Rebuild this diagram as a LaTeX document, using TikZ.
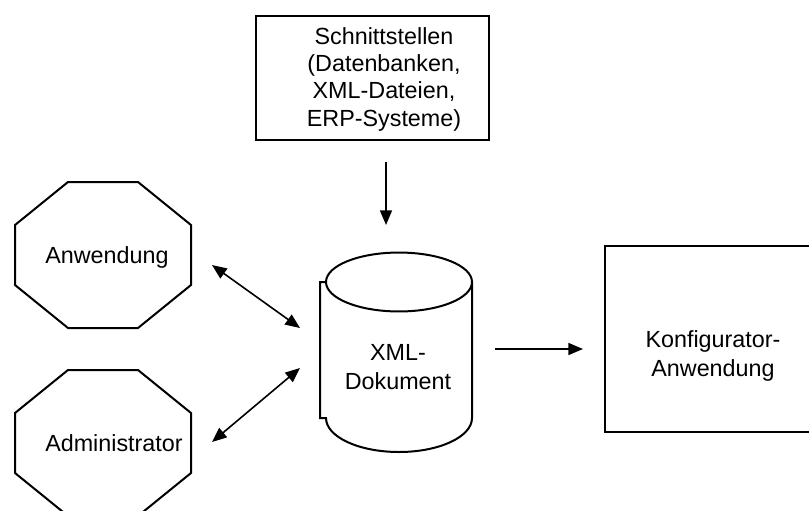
\documentclass[tikz,border=0pt]{standalone}
\usepackage{fontspec}
\setmainfont{Liberation Sans}
\usetikzlibrary{arrows.meta}
\begin{document}
\begin{tikzpicture}[x=0.75pt,y=-0.75pt,
  shp/.style={draw=black, line width=1.5pt},
  lbl/.style={font=\fontsize{17.5}{22}\selectfont, align=center, inner sep=0pt},
  conn/.style={line width=1.2pt, -{Triangle[length=11pt,width=9pt]}},
  biconn/.style={line width=1.2pt, {Triangle[length=11pt,width=9pt]}-{Triangle[length=11pt,width=9pt]}},
  octa/.pic={\draw[shp] (-35,-73) -- (35,-73) -- (88,-30) -- (88,30) -- (35,73) -- (-35,73) -- (-88,30) -- (-88,-30) -- cycle;}]
\useasboundingbox (0,0) rectangle (809,510);

% Schnittstellen box
\node[shp, anchor=north west, minimum width=174.75pt, minimum height=93pt, inner sep=0pt] (src) at (255,15) {};
\node[lbl, font=\fontsize{17.5}{20.5}\selectfont] (srct) at (384,79) {Schnittstellen\\(Datenbanken,\\XML-Dateien,\\ERP-Systeme)};

% Octagons
\pic at (103,255) {octa};
\pic at (103,443) {octa};
\node[lbl, anchor=base west] (app) at (45,263) {Anwendung};
\node[lbl, anchor=base west] (adm) at (45,451) {Administrator};

% Cylinder
\draw[shp] (399,282) ellipse [x radius=54.75pt, y radius=22.1pt];
\draw[shp] (472,282) -- (472,418) arc[start angle=0, end angle=-180, x radius=54.75pt, y radius=25.5pt]
  -- (320,418) -- (320,282) -- (326,282);
\node[inner sep=0pt, minimum width=114pt, minimum height=150pt] (doc) at (399,352) {};
\node[lbl] (doct) at (398,367) {XML-\\Dokument};

% Konfigurator box
\node[shp, anchor=north west, minimum width=156pt, minimum height=139.5pt, inner sep=0pt] (konf) at (604,245) {};
\node[lbl] (konft) at (713,356) {Konfigurator-\\Anwendung};

% connector end points
\coordinate (s1) at (386,162); \coordinate (e1) at (386,225);
\coordinate (s2) at (212,265); \coordinate (e2) at (300,328);
\coordinate (s3) at (212,442); \coordinate (e3) at (300,368);
\coordinate (s4) at (495,349); \coordinate (e4) at (583,349);

\draw[conn] (s1) -- (e1);
\draw[biconn] (s2) -- (e2);
\draw[biconn] (s3) -- (e3);
\draw[conn] (s4) -- (e4);
\end{tikzpicture}
\end{document}
